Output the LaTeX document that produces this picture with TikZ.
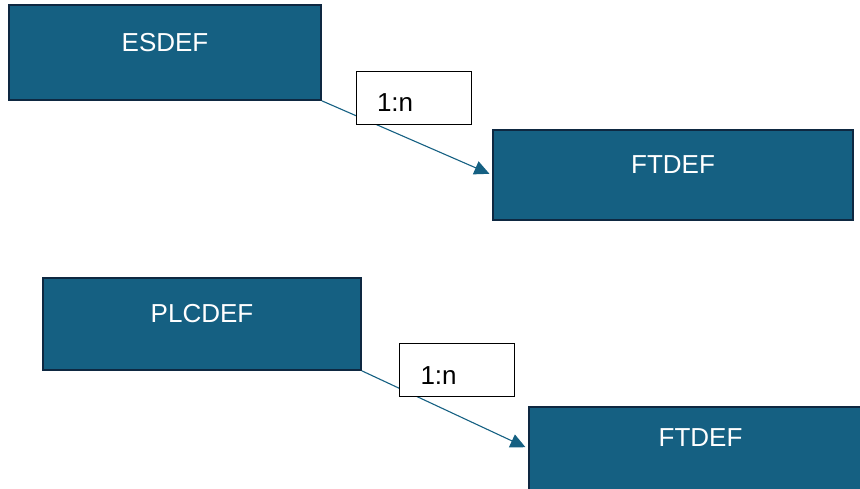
\documentclass[tikz,border=0pt]{standalone}
\usepackage{fontspec}
\setmainfont{Liberation Sans}
\usetikzlibrary{arrows.meta}
\tikzstyle{every picture}+=[font=\fontsize{26}{30}\selectfont]

\begin{document}
\begin{tikzpicture}[x=1pt, y=-1pt]
\definecolor{defblue}{HTML}{156082}
\definecolor{defnavy}{HTML}{0E2841}
\tikzset{
  defbox/.style={draw=defnavy, line width=1.6pt, fill=defblue, text=white,
    inner sep=0pt, text depth=21pt},
  cardbox/.style={draw=black, line width=0.9pt, fill=white, inner xsep=21pt,
    inner ysep=0pt, text width=73pt, align=left, minimum height=53pt,
    text height=28pt},
  relarrow/.style={draw=defblue, line width=1.1pt,
    -{Triangle[length=15pt, width=14pt]}, shorten >=3pt},
}
\useasboundingbox (0,0) rectangle (860,488);
\begin{scope}
\clip (0,0) rectangle (860,488);

%% upper pair
\node[defbox, minimum width=312pt, minimum height=95pt] (esdef) at (165,52.5) {ESDEF};
\node[defbox, minimum width=360pt, minimum height=90pt] (ftdefA) at (673,175) {FTDEF};
\draw[relarrow] (esdef.south east) -- (ftdefA.west);
\node[cardbox, minimum width=115pt] (cardA) at (413.5,97.5) {1:n};

%% lower pair
\node[defbox, minimum width=318pt, minimum height=92pt] (plcdef) at (202,324) {PLCDEF};
\node[defbox, minimum width=343pt, minimum height=83pt] (ftdefB) at (700.5,448.5) {FTDEF};
\draw[relarrow] (plcdef.south east) -- (ftdefB.west);
\node[cardbox, minimum width=114pt] (cardB) at (457,370) {1:n};
\end{scope}

\end{tikzpicture}
\end{document}
